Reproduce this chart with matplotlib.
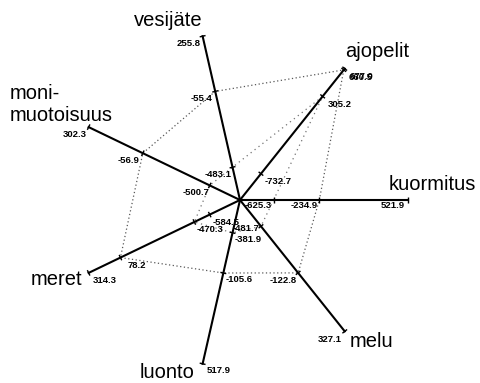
import numpy as np
import matplotlib
matplotlib.use('Agg')
import matplotlib.pyplot as plt

# Axes run counter-clockwise from "kuormitus"; each has its own min/max scale
axis_names = ['kuormitus', 'ajopelit', 'vesijäte', 'moni-\nmuotoisuus', 'meret', 'luonto', 'melu']
axis_min = [-625.3, -732.7, -483.1, -500.7, -584.5, -381.9, -481.7]
axis_max = [521.9, 677.0, 255.8, 302.3, 314.3, 517.9, 327.1]
series_a = [-234.9, 660.5, -55.4, -56.9, 78.2, -105.6, -122.8]
series_b = [-625.3, 305.2, -483.1, -500.7, -470.3, -381.9, -481.7]

R = 168          # axis length in px
INNER = 0.2      # fraction of the axis where the minimum sits

# label offsets (px, screen y down) for the small value labels on each axis
value_offsets = [(-15, 6), (17, 8), (-14, 7), (-14, 7), (16, 8), (16, 7), (-15, 8)]
# a couple of crowded labels near the centre get their own offset
label_override = {(6, -481.7): (-15, 2)}
# axis name placement relative to axis end (px, screen y down)
name_offsets = [(24, -15), (32, -17), (-34, -16), (-79, -23), (-32, 7), (-36, 9), (27, 10)]
name_ha = ['center', 'center', 'center', 'left', 'center', 'center', 'center']

n = len(axis_names)
angles = np.arange(n) * 2 * np.pi / n


def radius(i, v):
    return R * (INNER + (1 - INNER) * (v - axis_min[i]) / (axis_max[i] - axis_min[i]))


def point(i, v):
    r = radius(i, v)
    return r * np.cos(angles[i]), r * np.sin(angles[i])


def tick(ax, i, v, half=3):
    x, y = point(i, v)
    px, py = -np.sin(angles[i]), np.cos(angles[i])
    ax.plot([x - half * px, x + half * px], [y - half * py, y + half * py],
            color='black', lw=1.0, solid_capstyle='butt')


def value_label(ax, i, v):
    x, y = point(i, v)
    dx, dy = label_override.get((i, v), value_offsets[i])
    ax.text(x + dx, y - dy, f'{v:.1f}', ha='center', va='center',
            fontsize=6.8, fontweight='bold', family='Liberation Sans')


fig = plt.figure(figsize=(4.81, 3.83), dpi=100)
ax = fig.add_axes([0, 0, 1, 1])
ax.set_xlim(-240, 241)
ax.set_ylim(-183, 200)
ax.axis('off')

# data polygons
for vals, ls, col in [(series_a, (0, (1, 2)), '0.35'), (series_b, (0, (1, 3)), '0.45')]:
    pts = [point(i, v) for i, v in enumerate(vals)]
    pts.append(pts[0])
    xs, ys = zip(*pts)
    ax.plot(xs, ys, linestyle=ls, color=col, lw=0.9)

for i in range(n):
    ex, ey = point(i, axis_max[i])
    ax.plot([0, ex], [0, ey], color='black', lw=1.5)

    shown = []
    for v in (axis_min[i], axis_max[i], series_a[i], series_b[i]):
        if v in shown:
            continue
        shown.append(v)
        tick(ax, i, v)
        value_label(ax, i, v)

    dx, dy = name_offsets[i]
    ax.text(ex + dx, ey - dy, axis_names[i], ha=name_ha[i], va='center',
            fontsize=14.5, family='Liberation Sans', linespacing=1.2)

fig.savefig('out.png', dpi=100, facecolor='white')
